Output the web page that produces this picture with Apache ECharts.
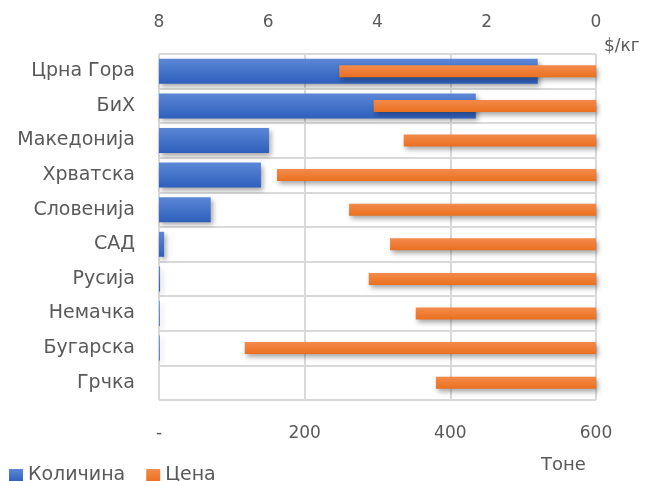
<!DOCTYPE html>
<html>
<head>
<meta charset="utf-8">
<script src="https://cdn.jsdelivr.net/npm/echarts@6/dist/echarts.min.js"></script>
<style>
html,body{margin:0;padding:0;background:#fff;}
#main{width:645px;height:481px;}
</style>
</head>
<body>
<div id="main"></div>
<script>
const categories = ['Црна Гора','БиХ','Македонија','Хрватска','Словенија','САД','Русија','Немачка','Бугарска','Грчка'];
const quantity = [520, 435, 151, 140, 71, 7, 1.5, 1, 1, 0];
const price = [4.7, 4.07, 3.52, 5.84, 4.52, 3.77, 4.16, 3.30, 6.43, 2.93];
const qtyTicks = {min: 0, max: 600, interval: 200};
const priceTicks = {min: 0, max: 8, interval: 2};

const FONT = 'DejaVu Sans';
const TXT = '#595959';
const chart = echarts.init(document.getElementById('main'));
chart.setOption({
  animation: false,
  textStyle: {fontFamily: FONT},
  grid: {left: 159, right: 49, top: 54, bottom: 81},
  legend: {
    left: 4, top: 461,
    itemWidth: 14, itemHeight: 13, itemGap: 21,
    icon: 'rect',
    textStyle: {fontFamily: FONT, fontSize: 19, color: TXT},
    data: ['Количина', 'Цена']
  },
  xAxis: [
    {
      type: 'value', position: 'bottom',
      min: qtyTicks.min, max: qtyTicks.max, interval: qtyTicks.interval,
      axisLine: {show: false}, axisTick: {show: false},
      axisLabel: {margin: 25, fontSize: 17, color: TXT, fontFamily: FONT,
        formatter: v => v === 0 ? '-' : String(v)},
      splitLine: {show: true, lineStyle: {color: '#d9d9d9', width: 2}}
    },
    {
      type: 'value', position: 'top', inverse: true,
      min: priceTicks.min, max: priceTicks.max, interval: priceTicks.interval,
      axisLine: {show: false}, axisTick: {show: false},
      axisLabel: {margin: 23, fontSize: 17, color: TXT, fontFamily: FONT},
      splitLine: {show: false}
    }
  ],
  yAxis: [
    {
      type: 'category', data: categories, inverse: true,
      axisLine: {show: false}, axisTick: {show: false},
      axisLabel: {margin: 24, fontSize: 19, color: TXT, fontFamily: FONT},
      splitLine: {show: true, interval: 0, lineStyle: {color: '#d9d9d9', width: 2}}
    },
    {
      type: 'category', data: categories, inverse: true, show: false
    }
  ],
  graphic: [
    {type: 'text', left: 604, top: 38, style: {text: '$/кг', fontFamily: FONT, fontSize: 17, fill: TXT}},
    {type: 'text', left: 541, top: 456, style: {text: 'Тоне', fontFamily: FONT, fontSize: 18, fill: TXT}}
  ],
  series: [
    {
      name: 'Количина', type: 'bar', xAxisIndex: 0, yAxisIndex: 0,
      data: quantity, barWidth: 25,
      itemStyle: {
        color: new echarts.graphic.LinearGradient(0,0,0,1,[{offset:0,color:'#5b87d6'},{offset:1,color:'#2e5fbc'}]),
        shadowBlur: 5, shadowOffsetX: 2, shadowOffsetY: 3, shadowColor: 'rgba(0,0,0,0.35)'
      }
    },
    {
      name: 'Цена', type: 'bar', xAxisIndex: 1, yAxisIndex: 1,
      data: price, barWidth: 12,
      itemStyle: {
        color: new echarts.graphic.LinearGradient(0,0,0,1,[{offset:0,color:'#f48a4b'},{offset:1,color:'#ea701f'}]),
        shadowBlur: 5, shadowOffsetX: 2, shadowOffsetY: 3, shadowColor: 'rgba(0,0,0,0.35)'
      }
    }
  ]
});
</script>
</body>
</html>
